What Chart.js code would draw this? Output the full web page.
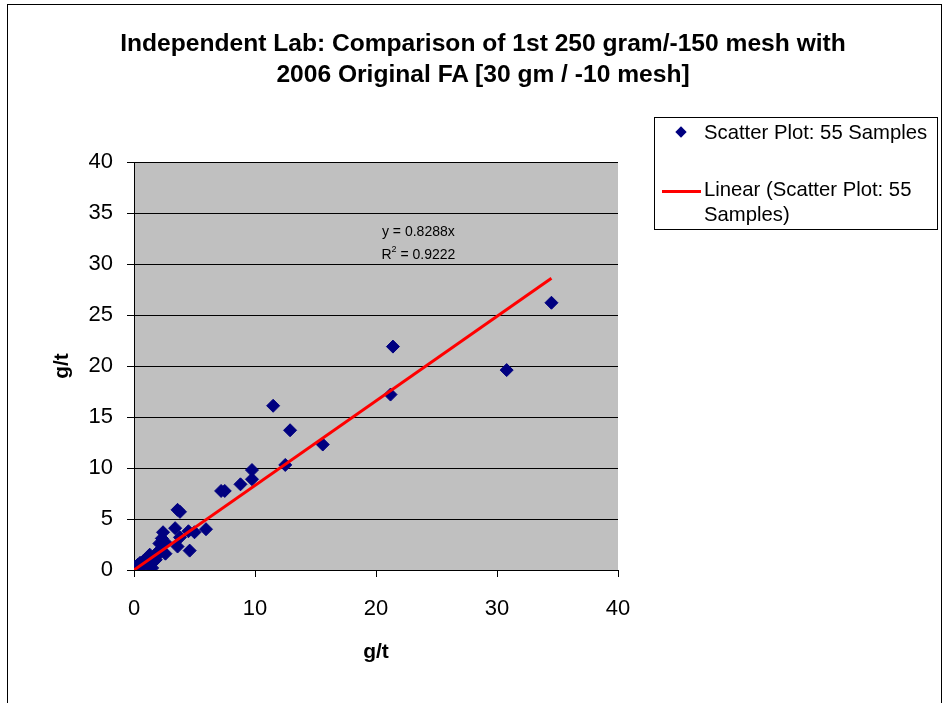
<!DOCTYPE html>
<html>
<head>
<meta charset="utf-8">
<script src="https://cdn.jsdelivr.net/npm/chart.js@4/dist/chart.umd.min.js"></script>
<style>
  html, body { margin: 0; padding: 0; background: #fff; overflow: hidden; }
  #wrap { position: relative; width: 946px; height: 703px; }
  #frame { position: absolute; left: 7px; top: 4px; width: 935px; height: 720px; border: 1.5px solid #000; box-sizing: border-box; pointer-events: none; }
  #title { position: absolute; left: 0; width: 966px; top: 27px; text-align: center; font-family: "Liberation Sans", Arial, sans-serif;
           font-weight: bold; font-size: 24.6px; line-height: 31px; color: #000; white-space: nowrap; }
  #legend { position: absolute; left: 654px; top: 117px; width: 284px; height: 113px; border: 1px solid #000; box-sizing: border-box; background: #fff;
            font-family: "Liberation Sans", Arial, sans-serif; font-size: 20.3px; color: #000; }
  .diamond { position: absolute; left: 22px; top: 10px; width: 8px; height: 8px; background: #000080; transform: rotate(45deg); }
  .line { position: absolute; left: 7px; top: 72px; width: 39px; height: 3px; background: #FF0000; }
  .t1 { position: absolute; left: 49px; top: 1px; white-space: nowrap; line-height: 26px; }
  .t2 { position: absolute; left: 49px; top: 59px; white-space: nowrap; line-height: 25px; }
  canvas { position: absolute; left: 0; top: 0; }
</style>
</head>
<body>
<div id="wrap">
  <canvas id="c" width="946" height="703"></canvas>
  <div id="frame"></div>
  <div id="title"></div>
  <div id="legend">
    <div class="diamond"></div>
    <div class="t1" id="lg1"></div>
    <div class="line"></div>
    <div class="t2" id="lg2"></div>
  </div>
</div>
<script>
// ---- data ----
const titleLines = ["Independent Lab: Comparison of 1st 250 gram/-150 mesh with", "2006 Original FA [30 gm / -10 mesh]"];
const xAxisTitle = "g/t";
const yAxisTitle = "g/t";
const seriesName = "Scatter Plot: 55 Samples";
const trendNameLines = ["Linear (Scatter Plot: 55", "Samples)"];
const xValues = [34.5, 30.8, 21.4, 21.2, 15.6, 11.5, 12.9, 12.5, 9.75, 9.75,
                 8.8, 7.2, 7.5, 3.6, 3.8, 3.4, 2.4, 5.95, 5.0, 4.5,
                 3.8, 3.6, 4.6, 2.6, 2.1, 2.3, 2.6, 1.6, 1.3, 1.5,
                 0.9, 0.5, 0.25, 0.05, 0.1, 0.2, 0.3, 0.4, 0.6, 0.7,
                 0.8, 1.0, 1.1, 1.2, 1.4, 1.7, 1.8, 1.9, 2.0, 2.2,
                 0.35, 0.65, 1.05, 1.45, 0.15];
const yValues = [26.2, 19.6, 21.9, 17.2, 12.3, 16.1, 13.7, 10.3, 9.8, 8.9,
                 8.4, 7.75, 7.75, 5.9, 5.7, 4.1, 3.7, 4.0, 3.7, 3.8,
                 3.2, 2.3, 1.9, 2.7, 2.6, 3.1, 1.6, 1.2, 1.5, 0.2,
                 1.0, 0.7, 0.4, 0.3, 0.1, 0.2, 0.5, 0.3, 0.4, 0.8,
                 0.6, 0.9, 1.1, 0.7, 1.2, 1.4, 1.0, 1.7, 1.5, 2.0,
                 0.15, 0.35, 0.6, 0.9, 0.05];
const slope = 0.8288;
const rSquared = 0.9222;
const axisMin = 0, axisMax = 40;
const xStep = 10, yStep = 5;

// ---- build ----
document.getElementById('title').innerHTML = titleLines.map(t => t.replace(/&/g,'&amp;').replace(/</g,'&lt;')).join('<br>');
document.getElementById('lg1').textContent = seriesName;
document.getElementById('lg2').innerHTML = trendNameLines.join('<br>');

const points = xValues.map((x, i) => ({ x: x, y: yValues[i] }));
const xMaxData = Math.max(...xValues);
const trend = [{ x: 0, y: 0 }, { x: xMaxData, y: slope * xMaxData }];

const FONT = '"Liberation Sans", Arial, sans-serif';

const eqPlugin = {
  id: 'eq',
  afterDatasetsDraw(chart) {
    const { ctx, scales: { x, y } } = chart;
    ctx.save();
    ctx.fillStyle = '#000';
    ctx.font = '14px ' + FONT;
    ctx.textAlign = 'center';
    ctx.textBaseline = 'middle';
    const cx = x.getPixelForValue(23.5);
    ctx.fillText('y = ' + slope + 'x', cx, y.getPixelForValue(33.1));
    const y2 = y.getPixelForValue(30.9);
    const rest = ' = ' + rSquared;
    const wR = ctx.measureText('R').width;
    ctx.font = '9px ' + FONT;
    const w2 = ctx.measureText('2').width;
    ctx.font = '14px ' + FONT;
    const wRest = ctx.measureText(rest).width;
    const sx = cx - (wR + w2 + wRest) / 2;
    ctx.textAlign = 'left';
    ctx.fillText('R', sx, y2);
    ctx.font = '9px ' + FONT;
    ctx.fillText('2', sx + wR, y2 - 5);
    ctx.font = '14px ' + FONT;
    ctx.fillText(rest, sx + wR + w2, y2);
    ctx.restore();
  }
};

const bgPlugin = {
  id: 'bg',
  beforeDraw(chart) {
    const { ctx, chartArea: a } = chart;
    ctx.save();
    ctx.fillStyle = '#C0C0C0';
    ctx.fillRect(a.left, a.top, a.right - a.left, a.bottom - a.top);
    ctx.restore();
  }
};

new Chart(document.getElementById('c'), {
  type: 'scatter',
  data: {
    datasets: [
      {
        label: trendNameLines.join(' '),
        type: 'line',
        data: trend,
        borderColor: '#FF0000',
        borderWidth: 3,
        pointRadius: 0,
        fill: false,
        order: 0
      },
      {
        label: seriesName,
        data: points,
        pointStyle: 'rectRot',
        pointRadius: 6.5,
        pointHoverRadius: 6.5,
        backgroundColor: '#000080',
        borderColor: '#000080',
        borderWidth: 1,
        order: 1
      }
    ]
  },
  options: {
    responsive: false,
    animation: false,
    events: [],
    layout: { padding: { left: 0, right: 328, top: 162, bottom: 0 } },
    plugins: {
      legend: { display: false },
      tooltip: { enabled: false },
      title: { display: false }
    },
    scales: {
      x: {
        type: 'linear',
        min: axisMin, max: axisMax,
        afterFit(s) { s.height = 133; },
        ticks: { stepSize: xStep, color: '#000', font: { family: FONT, size: 22 }, padding: 19, maxRotation: 0 },
        grid: { display: true, drawOnChartArea: false, color: '#000', tickLength: 7, lineWidth: 1 },
        border: { display: true, color: '#000', width: 1 },
        title: { display: true, text: xAxisTitle, color: '#000', font: { family: FONT, size: 21, weight: 'bold' }, padding: { top: 0, bottom: 38 } }
      },
      y: {
        type: 'linear',
        min: axisMin, max: axisMax,
        afterFit(s) { s.width = 134; },
        ticks: { stepSize: yStep, color: '#000', font: { family: FONT, size: 22 }, padding: 14 },
        grid: { display: true, color: '#000', tickLength: 7, lineWidth: 1 },
        border: { display: true, color: '#000', width: 1 },
        title: { display: true, text: yAxisTitle, color: '#000', font: { family: FONT, size: 21, weight: 'bold' }, padding: { top: 50, bottom: 0 } }
      }
    }
  },
  plugins: [bgPlugin, eqPlugin]
});
</script>
</body>
</html>
